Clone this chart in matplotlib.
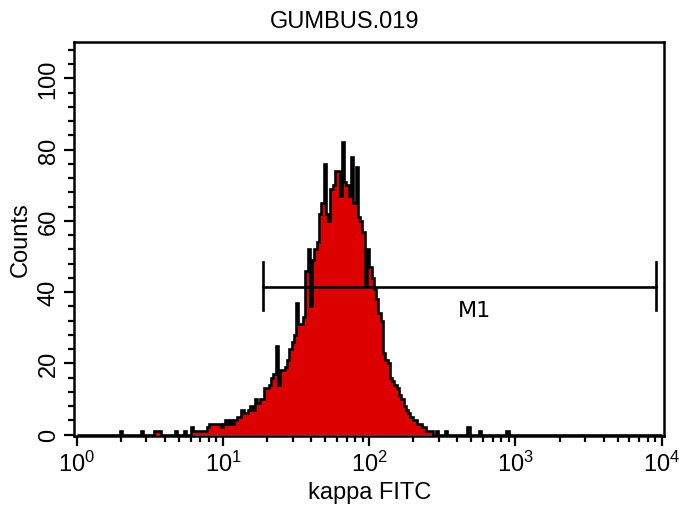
import numpy as np
import matplotlib
matplotlib.use("Agg")
from matplotlib import pyplot as plt
from matplotlib.ticker import FixedLocator, LogLocator, NullFormatter

plt.rcParams['font.family'] = ['Liberation Sans', 'DejaVu Sans']
plt.rcParams['mathtext.fontset'] = 'custom'
plt.rcParams['mathtext.rm'] = 'Liberation Sans'
plt.rcParams['mathtext.it'] = 'Liberation Sans'
plt.rcParams['mathtext.bf'] = 'Liberation Sans'

# 256 channels spread over 4 decades (10^0 .. 10^4)
n_channels = 256
first_channel = 15
# counts for channels 15 .. 195
counts = [
    0, 0, 0, 0, 1, 0, 0, 0, 0, 0,            # 15-24
    0, 0, 0, 1, 0, 0, 0, 0, 0, 1,            # 25-34
    1, 1, 0, 0, 0, 0, 0, 0, 1, 0,            # 35-44
    0, 0, 1, 0, 0, 2, 1, 1, 1, 1,            # 45-54
    1, 1, 2, 3, 3, 3, 3, 3, 2, 3,            # 55-64
    4, 3, 4, 3, 4, 5, 5, 7, 6, 6,            # 65-74
    7, 8, 7, 10, 9, 10, 10, 13, 13, 14,      # 75-84
    16, 17, 25, 14, 18, 18, 19, 21, 24, 26,  # 85-94
    28, 37, 31, 31, 33, 46, 52, 36, 49, 52,  # 95-104
    54, 62, 65, 76, 62, 60, 69, 70, 74, 74,  # 105-114
    67, 82, 71, 70, 67, 78, 65, 75, 61, 60,  # 115-124
    57, 42, 52, 47, 44, 41, 38, 34, 32, 23,  # 125-134
    21, 20, 16, 15, 14, 13, 11, 10, 8, 7,    # 135-144
    6, 5, 4, 4, 3, 3, 2, 2, 1, 1,            # 145-154
    1, 0, 1, 0, 0, 0, 1, 0, 0, 0,            # 155-164
    0, 0, 0, 0, 0, 0, 2, 0, 0, 0,            # 165-174
    0, 1, 0, 0, 0, 0, 0, 0, 0, 0,            # 175-184
    0, 0, 0, 1, 0, 0, 0, 0, 0, 0,            # 185-194
    0,                                       # 195
]

marker_name = "M1"
marker_left = 18.8
marker_right = 9140
marker_level = 41.5

title = "GUMBUS.019"
xlabel = "kappa FITC"
ylabel = "Counts"

hist = np.zeros(n_channels)
hist[first_channel:first_channel + len(counts)] = counts
edges = 10 ** (np.arange(n_channels + 1) * 4.0 / n_channels)

fig = plt.figure(figsize=(6.79, 5.10), dpi=100)
ax = fig.add_axes([0.1094, 0.1431, 0.978 - 0.1094, 0.9163 - 0.1431])

ax.stairs(hist, edges, fill=True, color="#dc0000", zorder=2)
ax.stairs(hist, edges, color="black", linewidth=1.9, zorder=3)

# marker bar
ax.plot([marker_left, marker_right], [marker_level, marker_level], color="black", lw=1.9, zorder=4)
ax.plot([marker_left, marker_left], [35.0, 48.5], color="black", lw=1.9, zorder=4)
ax.plot([marker_right, marker_right], [35.0, 48.5], color="black", lw=1.9, zorder=4)
ax.text(10 ** 2.72, 35.0, marker_name, ha="center", va="center", fontsize=16,
        family="DejaVu Sans", zorder=5)

ax.set_xscale("log")
ax.set_xlim(10 ** -0.0164, 10 ** 4.0157)
ax.set_ylim(-0.4, 110.3)

ax.xaxis.set_major_locator(FixedLocator([1, 10, 100, 1000, 10000]))
ax.xaxis.set_minor_locator(LogLocator(base=10, subs=np.arange(2, 10)))
ax.xaxis.set_minor_formatter(NullFormatter())
ax.yaxis.set_major_locator(FixedLocator([0, 20, 40, 60, 80, 100]))
ax.yaxis.set_minor_locator(FixedLocator(list(range(0, 110, 4))))

for s in ax.spines.values():
    s.set_linewidth(1.8)
ax.tick_params(which="major", length=7.5, width=1.6, labelsize=17, pad=3)
ax.tick_params(which="minor", length=4.5, width=1.6)
ax.tick_params(axis="y", which="major", labelrotation=90, pad=3)
for lbl in ax.get_yticklabels():
    lbl.set_va("center")

fig.text(345 / 679, 1 - 22 / 510, title, ha="center", va="center", fontsize=17)
ax.set_xlabel(xlabel, fontsize=17, labelpad=4)
ax.set_ylabel(ylabel, fontsize=17, labelpad=4)

fig.savefig("out.png", dpi=100)
